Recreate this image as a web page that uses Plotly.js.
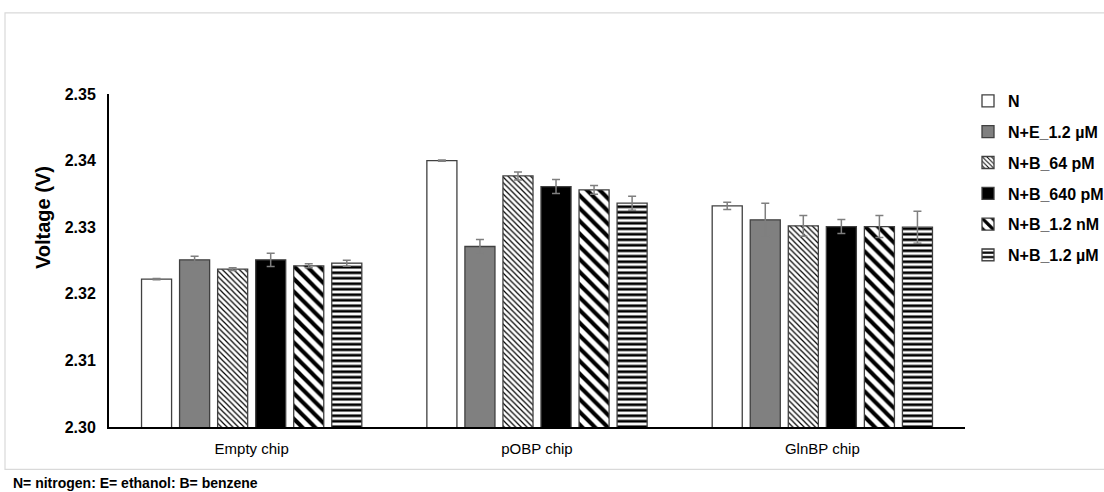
<!DOCTYPE html>
<html>
<head>
<meta charset="utf-8">
<script src="https://cdn.plot.ly/plotly-3.0.1.min.js"></script>
<style>html,body{margin:0;padding:0;background:#fff;}#chart{width:1104px;height:492px;}</style>
</head>
<body>
<div id="chart"></div>
<script>
// ---- data ----
const categories = ['Empty chip', 'pOBP chip', 'GlnBP chip'];
const seriesNames = ['N', 'N+E_1.2 µM', 'N+B_64 pM', 'N+B_640 pM', 'N+B_1.2 nM', 'N+B_1.2 µM'];
const valN     = [2.3222, 2.3400, 2.3332];
const valNE    = [2.3251, 2.3271, 2.3311];
const valB64p  = [2.3237, 2.3377, 2.3302];
const valB640p = [2.3251, 2.3361, 2.3301];
const valB12n  = [2.3242, 2.3356, 2.3301];
const valB12u  = [2.3246, 2.3336, 2.3300];
const errN     = [0.0001, 0.0001, 0.00055];
const errNE    = [0.00055, 0.00105, 0.0025];
const errB64p  = [0.0002, 0.0006, 0.00155];
const errB640p = [0.001, 0.00105, 0.00105];
const errB12n  = [0.0003, 0.00065, 0.00165];
const errB12u  = [0.00045, 0.00105, 0.0024];
const yTicks = [2.30, 2.31, 2.32, 2.33, 2.34, 2.35];
const yTickText = ['2.30', '2.31', '2.32', '2.33', '2.34', '2.35'];

const FONT = 'Liberation Sans, Arial, sans-serif';
const values = [valN, valNE, valB64p, valB640p, valB12n, valB12u];
const errors = [errN, errNE, errB64p, errB640p, errB12n, errB12u];
const styles = [
  {color: '#ffffff'},
  {color: '#808080'},
  {color: '#ffffff', pattern: {shape: '\\', size: 4, solidity: 0.3, fgcolor: '#000000', bgcolor: '#ffffff', fillmode: 'replace'}},
  {color: '#000000'},
  {color: '#ffffff', pattern: {shape: '\\', size: 9, solidity: 0.45, fgcolor: '#000000', bgcolor: '#ffffff', fillmode: 'replace'}},
  {color: '#ffffff', pattern: {shape: '-', size: 5.5, solidity: 0.5, fgcolor: '#000000', bgcolor: '#ffffff', fillmode: 'replace'}}
];

const traces = seriesNames.map((name, i) => {
  const m = {color: styles[i].color, line: {color: '#404040', width: 1.3}};
  if (styles[i].pattern) m.pattern = styles[i].pattern;
  return {
    type: 'bar',
    name: name,
    x: categories,
    y: values[i],
    marker: m,
    legendgroup: 'g' + i,
    error_y: {type: 'data', array: errors[i], visible: true, color: '#7f7f7f', thickness: 1.5, width: 4},
    hoverinfo: 'x+y+name'
  };
});

// pixel helpers for paper coords
const L = 109, R = 965, T = 94, B = 426.7;
const px = v => (v - L) / (R - L);
const py = v => (B - v) / (B - T);

const layout = {
  width: 1104, height: 492,
  margin: {l: L, r: 1104 - R, t: T, b: 492 - B, pad: 0},
  paper_bgcolor: '#ffffff', plot_bgcolor: '#ffffff',
  barmode: 'group', bargap: 0.2, bargroupgap: 0.21,
  font: {family: FONT, color: '#000000'},
  showlegend: true,
  legend: {
    xref: 'container', yref: 'container',
    x: 968 / 1104, xanchor: 'left',
    y: 1 - 84 / 492, yanchor: 'top',
    font: {family: FONT, size: 16, color: '#000000', weight: 'bold'},
    tracegroupgap: 7,
    bgcolor: 'rgba(0,0,0,0)', borderwidth: 0
  },
  xaxis: {
    type: 'category',
    showline: true, linecolor: '#000000', linewidth: 2,
    showgrid: false, zeroline: false, ticks: '',
    ticklabelstandoff: 7,
    tickfont: {family: FONT, size: 15, color: '#000000'}
  },
  yaxis: {
    range: [2.30, 2.35],
    tickvals: yTicks, ticktext: yTickText,
    showline: true, linecolor: '#000000', linewidth: 2,
    showgrid: false, zeroline: false, ticks: '',
    ticklabelstandoff: 8,
    tickfont: {family: FONT, size: 16, color: '#000000', weight: 'bold'}
  },
  annotations: [
    {text: 'Voltage (V)', xref: 'paper', yref: 'paper', x: px(43), y: py(218),
     xanchor: 'center', yanchor: 'middle', textangle: -90, showarrow: false,
     font: {family: FONT, size: 20, color: '#000000', weight: 'bold'}},
    {text: 'N= nitrogen: E= ethanol: B= benzene', xref: 'paper', yref: 'paper', x: px(11), y: py(483),
     xanchor: 'left', yanchor: 'middle', showarrow: false,
     font: {family: FONT, size: 14, color: '#000000', weight: 'bold'}}
  ],
  shapes: [
    {type: 'rect', xref: 'paper', yref: 'paper', x0: px(5), x1: px(1115), y0: py(469), y1: py(13),
     line: {color: '#d9d9d9', width: 1.2}, fillcolor: 'rgba(0,0,0,0)', layer: 'below'}
  ]
};

Plotly.newPlot('chart', traces, layout, {displayModeBar: false, responsive: false});
</script>
</body>
</html>
